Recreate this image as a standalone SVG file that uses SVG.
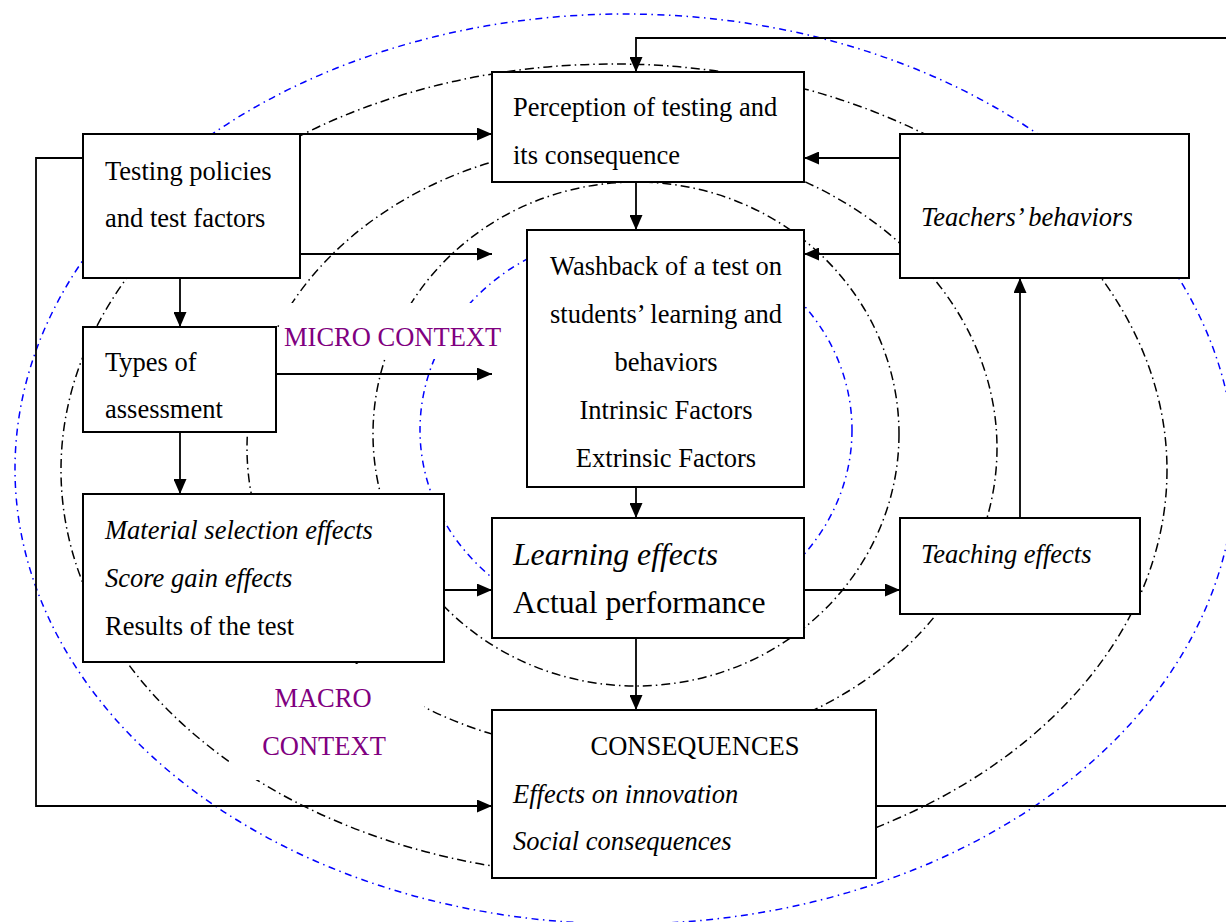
<svg xmlns="http://www.w3.org/2000/svg" width="1226" height="922" viewBox="0 0 1226 922">
<style>
.bg{fill:#fff}
.ring{fill:none;stroke:#000;stroke-width:1.5;stroke-dasharray:9 4 1.5 4}
.bring{fill:none;stroke:#0000ff;stroke-width:1.5;stroke-dasharray:7 4.5 1.5 4.5}
.box{fill:#fff;stroke:#000;stroke-width:2}
.t{font-family:"Liberation Serif","Times New Roman",serif;font-size:26.5px;fill:#000}
.i{font-style:italic}
.big{font-size:31.7px}
.c{text-anchor:middle}
.p{fill:#800080}
.cn{fill:none;stroke:#000;stroke-width:1.8}
</style>
<defs>
<marker id="ah" markerUnits="userSpaceOnUse" markerWidth="15" markerHeight="13" refX="15" refY="6.5" orient="auto">
<path d="M0,0 L15,6.5 L0,13 z" fill="#000"/>
</marker>
</defs>
<rect class="bg" x="0" y="0" width="1226" height="922"/>
<g id="contexts">
<ellipse class="bring" cx="625" cy="469" rx="610" ry="455"/>
<ellipse class="ring" cx="614" cy="470" rx="553" ry="406"/>
<ellipse class="ring" cx="622" cy="448" rx="375" ry="305"/>
<ellipse class="ring" cx="636" cy="434" rx="263" ry="252"/>
<ellipse class="bring" cx="636" cy="430" rx="216" ry="198"/>
</g>
<g id="micro-label">
<rect class="bg" x="280" y="303" width="226" height="56"/>
<text class="t p" x="284" y="346">MICRO CONTEXT</text>
</g>
<g id="macro-label">
<rect class="bg" x="229" y="664" width="195" height="116"/>
<text class="t p c" x="323" y="707">MACRO</text>
<text class="t p c" x="324" y="755">CONTEXT</text>
</g>
<g id="perception">
<rect class="box" x="492" y="72" width="312" height="110"/>
<text class="t" x="513" y="116">Perception of testing and</text>
<text class="t" x="513" y="164">its consequence</text>
</g>
<g id="testing-policies">
<rect class="box" x="83" y="134" width="217" height="144"/>
<text class="t" x="105" y="180">Testing policies</text>
<text class="t" x="105" y="227">and test factors</text>
</g>
<g id="teachers-behaviors">
<rect class="box" x="900" y="134" width="289" height="144"/>
<text class="t i" x="921" y="226">Teachers’ behaviors</text>
</g>
<g id="washback">
<rect class="box" x="527" y="230" width="277" height="257"/>
<text class="t c" x="666" y="275">Washback of a test on</text>
<text class="t c" x="666" y="323">students’ learning and</text>
<text class="t c" x="666" y="371">behaviors</text>
<text class="t c" x="666" y="419">Intrinsic Factors</text>
<text class="t c" x="666" y="467">Extrinsic Factors</text>
</g>
<g id="types-of-assessment">
<rect class="box" x="83" y="327" width="193" height="105"/>
<text class="t" x="105" y="371">Types of</text>
<text class="t" x="105" y="418">assessment</text>
</g>
<g id="results">
<rect class="box" x="83" y="494" width="361" height="168"/>
<text class="t i" x="105" y="539">Material selection effects</text>
<text class="t i" x="105" y="587">Score gain effects</text>
<text class="t" x="105" y="635">Results of the test</text>
</g>
<g id="learning-effects">
<rect class="box" x="492" y="518" width="312" height="120"/>
<text class="t i big" x="513" y="565">Learning effects</text>
<text class="t big" x="513" y="613">Actual performance</text>
</g>
<g id="teaching-effects">
<rect class="box" x="900" y="518" width="240" height="96"/>
<text class="t i" x="921" y="563">Teaching effects</text>
</g>
<g id="consequences">
<rect class="box" x="492" y="710" width="384" height="168"/>
<text class="t c" x="695" y="755">CONSEQUENCES</text>
<text class="t i" x="513" y="803">Effects on innovation</text>
<text class="t i" x="513" y="850">Social consequences</text>
</g>
<g id="connectors">
<polyline class="cn" points="1226,38 636,38 636,72" marker-end="url(#ah)"/>
<polyline class="cn" points="83,158 36,158 36,806 492,806" marker-end="url(#ah)"/>
<line class="cn" x1="876" y1="806" x2="1226" y2="806"/>
<line class="cn" x1="300" y1="134" x2="492" y2="134" marker-end="url(#ah)"/>
<line class="cn" x1="300" y1="254" x2="492" y2="254" marker-end="url(#ah)"/>
<line class="cn" x1="180" y1="278" x2="180" y2="327" marker-end="url(#ah)"/>
<line class="cn" x1="276" y1="374" x2="492" y2="374" marker-end="url(#ah)"/>
<line class="cn" x1="180" y1="432" x2="180" y2="494" marker-end="url(#ah)"/>
<line class="cn" x1="444" y1="590" x2="492" y2="590" marker-end="url(#ah)"/>
<line class="cn" x1="636" y1="182" x2="636" y2="230" marker-end="url(#ah)"/>
<line class="cn" x1="636" y1="487" x2="636" y2="518" marker-end="url(#ah)"/>
<line class="cn" x1="636" y1="638" x2="636" y2="710" marker-end="url(#ah)"/>
<line class="cn" x1="804" y1="590" x2="900" y2="590" marker-end="url(#ah)"/>
<line class="cn" x1="1020" y1="518" x2="1020" y2="278" marker-end="url(#ah)"/>
<line class="cn" x1="900" y1="158" x2="804" y2="158" marker-end="url(#ah)"/>
<line class="cn" x1="900" y1="254" x2="804" y2="254" marker-end="url(#ah)"/>
</g>
</svg>
